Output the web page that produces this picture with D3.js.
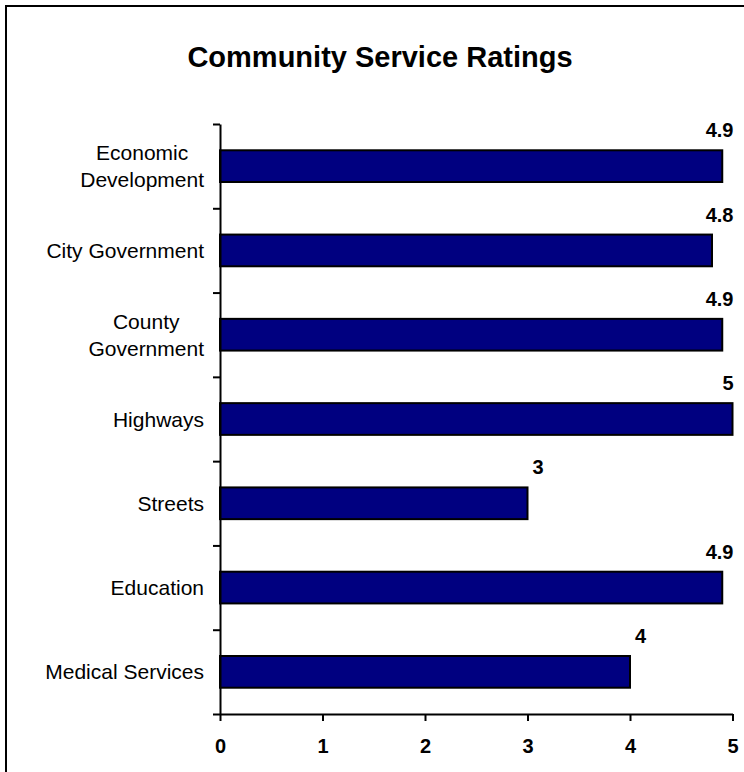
<!DOCTYPE html>
<html><head><meta charset="utf-8">
<script src="https://cdn.jsdelivr.net/npm/d3@7"></script>
<style>body{margin:0;background:#fff} svg{display:block}</style>
</head><body>
<svg id="chart" width="744" height="772"></svg>
<script>
// ---- data ----
const categories = ["Economic Development","City Government","County Government","Highways","Streets","Education","Medical Services"];
const ratings = [4.9, 4.8, 4.9, 5, 3, 4.9, 4];
const xTicks = [0, 1, 2, 3, 4, 5];
const chartTitle = "Community Service Ratings";

// ---- layout ----
const W = 744, H = 772;
const font = "Arial, 'Liberation Sans', sans-serif";
const plot = {left: 220, right: 732.5, top: 124, bottom: 714};
const svg = d3.select("#chart");

// outer frame (right/bottom edges fall outside the window)
svg.append("rect").attr("x", 6).attr("y", 6).attr("width", 900).attr("height", 900)
  .attr("fill", "#fff").attr("stroke", "#000").attr("stroke-width", 2);

svg.append("text").attr("x", 380).attr("y", 67).attr("text-anchor", "middle")
  .attr("font-family", font).attr("font-weight", "bold").attr("font-size", 29)
  .attr("fill", "#000").text(chartTitle);

const x = d3.scaleLinear().domain([0, 5]).range([plot.left, plot.right]);
const y = d3.scaleBand().domain(categories).range([plot.top, plot.bottom]).padding(0);
const yEdges = d3.scaleLinear().domain([0, categories.length]).range([plot.top, plot.bottom]);
const bw = y.bandwidth();

// bars
svg.append("g").selectAll("rect").data(categories).join("rect")
  .attr("x", x(0))
  .attr("y", d => y(d) + bw * 0.3 + 1)
  .attr("width", (d, i) => x(ratings[i]) - x(0))
  .attr("height", bw * 0.4 - 2)
  .attr("fill", "#000080").attr("stroke", "#000").attr("stroke-width", 2);

// y axis (ticks at category boundaries)
const gy = svg.append("g").attr("transform", `translate(${plot.left},0)`)
  .call(d3.axisLeft(yEdges).tickValues(d3.range(categories.length + 1)).tickSize(7).tickSizeOuter(0).tickFormat(""));
gy.selectAll("path,line").attr("stroke", "#000").attr("stroke-width", 2);

// x axis
const gx = svg.append("g").attr("transform", `translate(0,${plot.bottom})`)
  .call(d3.axisBottom(x).tickValues(xTicks).tickSize(7).tickSizeOuter(0).tickPadding(18).tickFormat(d3.format("d")));
gx.selectAll("path,line").attr("stroke", "#000").attr("stroke-width", 2);
gx.selectAll("text").attr("font-family", font).attr("font-weight", "bold").attr("font-size", 20).attr("fill", "#000");

// category labels (wrapped, block right-aligned, lines centered)
const catFS = 21, lineH = 27, maxLineW = 175, labelRight = 204;
const meas = svg.append("text").attr("font-family", font).attr("font-size", catFS).attr("visibility", "hidden");
function tw(s) { meas.text(s); return meas.node().getComputedTextLength(); }
categories.forEach((c) => {
  const words = c.split(" ");
  const lines = [];
  let cur = "";
  words.forEach(w => {
    const t = cur ? cur + " " + w : w;
    if (cur && tw(t) > maxLineW) { lines.push(cur); cur = w; } else cur = t;
  });
  if (cur) lines.push(cur);
  const maxW = d3.max(lines, tw);
  const cx = labelRight - maxW / 2;
  const cy = y(c) + bw / 2;
  const t = svg.append("text").attr("font-family", font).attr("font-size", catFS)
    .attr("fill", "#000").attr("text-anchor", "middle");
  lines.forEach((l, k) => {
    t.append("tspan").attr("x", cx)
      .attr("y", cy - (lines.length - 1) * lineH / 2 + k * lineH + catFS * 0.358)
      .text(l);
  });
});
meas.remove();

// value labels
const vl = svg.append("g").selectAll("text").data(categories).join("text")
  .attr("font-family", font).attr("font-weight", "bold").attr("font-size", 20).attr("fill", "#000")
  .attr("y", d => y(d) + bw * 0.3 - 12)
  .text((d, i) => String(ratings[i]));
vl.each(function(d, i) {
  const w = this.getComputedTextLength();
  const xs = x(ratings[i]) + 5;
  if (xs + w > plot.right + 1) d3.select(this).attr("text-anchor", "end").attr("x", plot.right + 1);
  else d3.select(this).attr("text-anchor", "start").attr("x", xs);
});
</script>
</body></html>
